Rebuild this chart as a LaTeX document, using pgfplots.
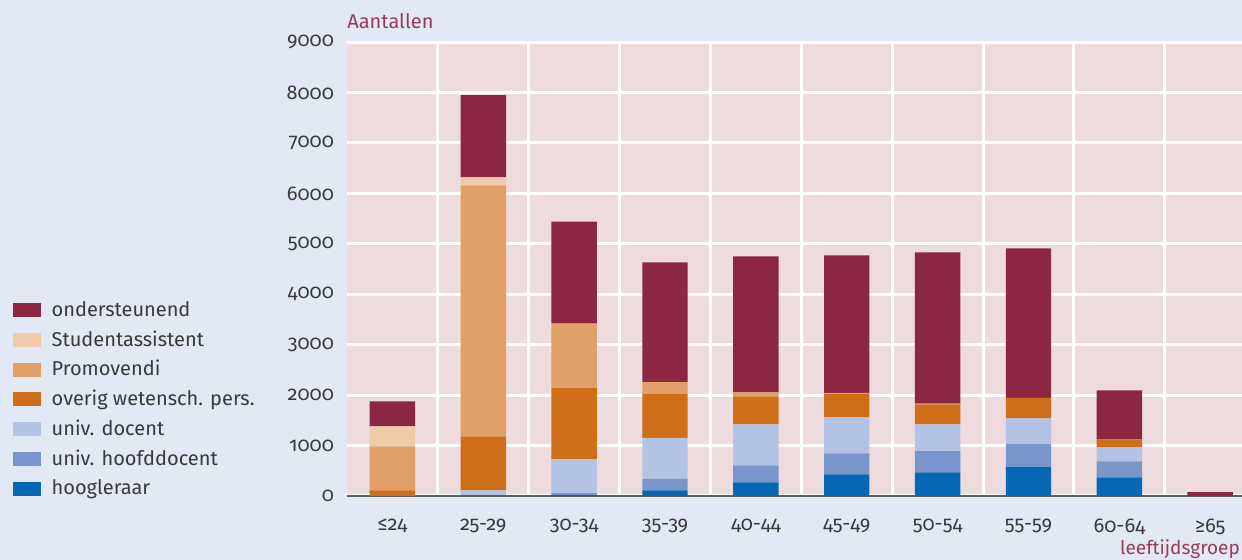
\documentclass[border=0pt]{standalone}
\usepackage{fontspec}
\setmainfont{Fira Sans}[Numbers=OldStyle]
\usepackage{pgfplots}
\pgfplotsset{compat=1.18}
\usepackage{pgfplotstable}

\definecolor{bgblue}{HTML}{E2E8F4}
\definecolor{plotpink}{HTML}{EEDBDE}
\definecolor{txt}{HTML}{3A3A3A}
\definecolor{maroon}{HTML}{8B2742}
\definecolor{cStud}{HTML}{EFCBA9}
\definecolor{cProm}{HTML}{E0A068}
\definecolor{cOverig}{HTML}{CF6E18}
\definecolor{cDoc}{HTML}{B4C2E4}
\definecolor{cHoofd}{HTML}{7896CC}
\definecolor{cHoog}{HTML}{0668B4}

% age groups 0..9, staff per category (stacked bottom to top)
\pgfplotstableread{
x hoog hoofd doc overig prom stud ond
0 0   0   0   113  872  397 495
1 10  10  93  1070 4977 158 1627
2 15  40  674 1407 1269 10  2023
3 113 224 813 870  238  0   2374
4 272 337 812 555  80   0   2695
5 431 416 713 470  15   0   2726
6 470 417 534 396  15   0   2999
7 570 457 513 402  5    0   2963
8 370 318 278 158  0    0   971
9 0   0   0   0    0    0   75
}\datatable

\begin{document}
\begin{tikzpicture}
\fill[bgblue] (-173.5pt,-32pt) rectangle ++(621pt,280pt);
\begin{axis}[
    scale only axis,
    width=447.5pt, height=227pt,
    ybar stacked, bar width=0.5,
    xmin=-0.5, xmax=9.35,
    ymin=0, ymax=9000,
    ytick={0,1000,...,9000},
    xtick={0,...,9},
    xticklabels={≤24,25-29,30-34,35-39,40-44,45-49,50-54,55-59,60-64,≥65},
    minor xtick={0.5,1.5,...,8.5},
    xminorgrids, ymajorgrids,
    minor grid style={white, line width=1.5pt},
    major grid style={white, line width=1.5pt},
    axis background/.style={fill=plotpink},
    axis x line*=bottom, axis y line*=left,
    x axis line style={draw=txt!80, line width=1pt},
    y axis line style={draw=none},
    major tick length=0pt, minor tick length=0pt,
    tick label style={font=\fontsize{10}{12}\selectfont, text=txt},
    /pgf/number format/assume math mode=true,
    /pgf/number format/1000 sep={},
    yticklabel style={xshift=-3pt},
    xticklabel style={yshift=-8pt},
    reverse legend,
    legend cell align=left,
    legend image code/.code={\fill[#1] (0pt,-3.5pt) rectangle (14pt,3.5pt);},
    legend style={at={(rel axis cs:-0.374,0.434)}, anchor=north west,
        draw=none, fill=none, inner sep=0pt,
        font=\fontsize{10}{12}\selectfont, text=txt,
        row sep=3.6pt,
        nodes={inner xsep=5.5pt, inner ysep=1pt}},
    clip=false,
]
\addplot[fill=cHoog, draw=none] table[x=x, y=hoog] {\datatable};
\addlegendentry{hoogleraar}
\addplot[fill=cHoofd, draw=none] table[x=x, y=hoofd] {\datatable};
\addlegendentry{univ. hoofddocent}
\addplot[fill=cDoc, draw=none] table[x=x, y=doc] {\datatable};
\addlegendentry{univ. docent}
\addplot[fill=cOverig, draw=none] table[x=x, y=overig] {\datatable};
\addlegendentry{overig wetensch. pers.}
\addplot[fill=cProm, draw=none] table[x=x, y=prom] {\datatable};
\addlegendentry{Promovendi}
\addplot[fill=cStud, draw=none] table[x=x, y=stud] {\datatable};
\addlegendentry{Studentassistent}
\addplot[fill=maroon, draw=none] table[x=x, y=ond] {\datatable};
\addlegendentry{ondersteunend}

\node[anchor=base west, inner sep=0pt, text=maroon!90,
      font=\fontsize{10}{12}\selectfont]
    at ([yshift=7pt]rel axis cs:0,1) {Aantallen};
\node[anchor=base east, inner sep=0pt, text=maroon!90,
      font=\fontsize{9.5}{11}\selectfont]
    at ([yshift=-29.5pt]rel axis cs:0.998,0) {leeftijdsgroep};
\end{axis}
\pgfresetboundingbox
\path[use as bounding box] (-173.5pt,-32pt) rectangle ++(621pt,280pt);
\end{tikzpicture}
\end{document}
